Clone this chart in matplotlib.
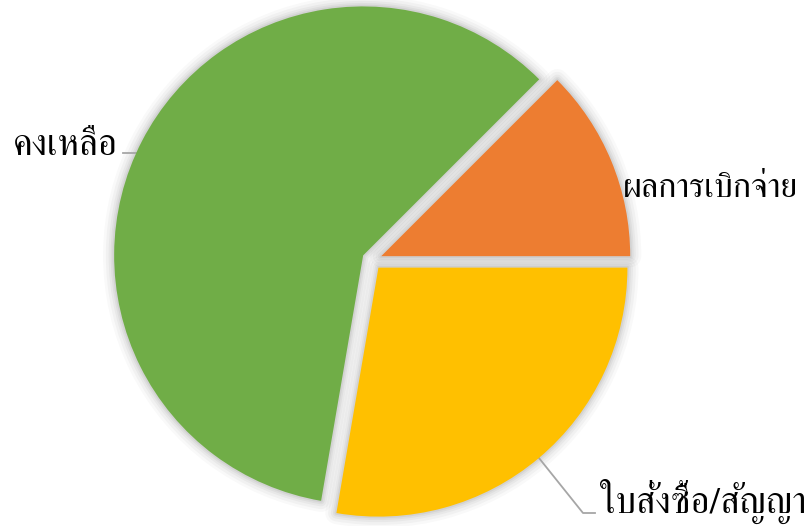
import numpy as np
import matplotlib
matplotlib.use("Agg")
import matplotlib.pyplot as plt
from matplotlib.patches import Wedge

labels = ['ผลการเบิกจ่าย', 'ใบสั่งซื้อ/สัญญา', 'คงเหลือ']
values = [12.5, 27.7, 59.8]
colors = ['#ED7D31', '#FFC000', '#70AD47']

plt.rcParams['font.family'] = ['FreeSerif', 'DejaVu Sans']

fig = plt.figure(figsize=(8.12, 5.26), dpi=100)
ax = fig.add_axes([0, 0, 1, 1])

wedges, _ = ax.pie(values, colors=colors, startangle=45, counterclock=False,
                   explode=[0.04] * 3, radius=1,
                   wedgeprops=dict(linewidth=0, zorder=3))

# soft glow / shadow round each slice
for w in wedges:
    for lw, a in [(16, 0.025), (12, 0.03), (8, 0.035), (5, 0.04), (2.5, 0.05)]:
        ax.add_patch(Wedge(w.center, w.r, w.theta1, w.theta2, facecolor='none',
                           edgecolor='black', linewidth=lw, alpha=a,
                           joinstyle='round', zorder=1))

# pixel-fitted view: centre at (372, 260) px, radius 249 px
s = 249.0
ax.set_aspect('auto')
ax.set_xlim(-372 / s, (812 - 372) / s)
ax.set_ylim(-(526 - 260) / s, 260 / s)
ax.axis('off')

def px(x, y):
    return (x - 372) / s, (260 - y) / s

def mid_point(w):
    ang = np.deg2rad((w.theta1 + w.theta2) / 2)
    return w.center[0] + w.r * np.cos(ang), w.center[1] + w.r * np.sin(ang)

# orange label
ax.text(*px(623, 197), labels[0], fontsize=24.5, ha='left', va='baseline')

# yellow label with leader
ax.text(*px(600, 513), labels[1], fontsize=26.5, ha='left', va='baseline')
mx, my = mid_point(wedges[1])
x1, y1 = px(583, 513)
x2, y2 = px(595, 513)
ax.plot([mx, x1, x2], [my, y1, y2], color='#A6A6A6', lw=1.3, zorder=2)

# green label with leader
ax.text(*px(118, 155), labels[2], fontsize=26.5, ha='right', va='baseline')
gx, gy = px(138, 153)
x3, y3 = px(123, 153)
ax.plot([gx, x3], [gy, y3], color='#A6A6A6', lw=1.3, zorder=2)

fig.savefig('out.png', dpi=100)
